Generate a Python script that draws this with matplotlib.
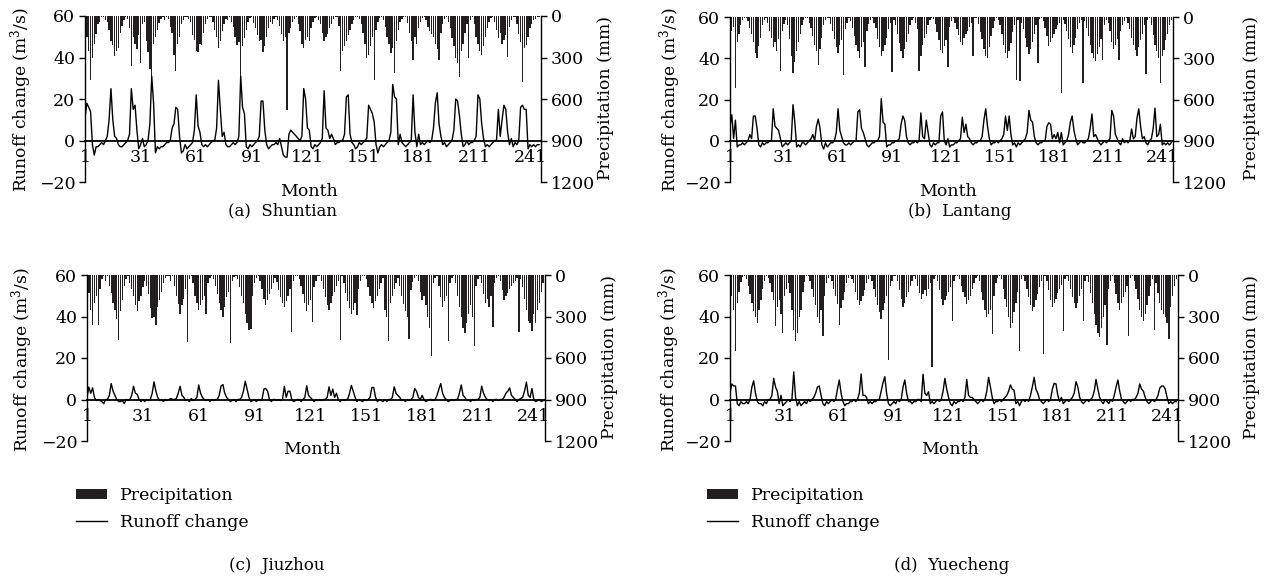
import numpy as np
import matplotlib
matplotlib.use('Agg')
import matplotlib.pyplot as plt
from matplotlib.patches import Patch
from matplotlib.lines import Line2D

plt.rcParams['font.family'] = ['DejaVu Serif']
plt.rcParams['mathtext.fontset'] = 'dejavuserif'

months = list(range(1, 247))
month_ticks = [1, 31, 61, 91, 121, 151, 181, 211, 241]
runoff_ticks = [-20, 0, 20, 40, 60]
precip_ticks = [0, 300, 600, 900, 1200]
captions = ['(a)  Shuntian', '(b)  Lantang', '(c)  Jiuzhou', '(d)  Yuecheng']
legend_labels = ['Precipitation', 'Runoff change']

runoff_a = [
    11, 18, 16, 14, -2, -7, -3, -3, -2, -1, -2, 0,
    2, 10, 25, 10, 2, 1, -2, -3, -3, -2, -1, 0,
    3, 25, 15, 17, 5, -4, -2, 1, -3, -2, 0, 8,
    31, 18, -6, -3, -4, -3, -3, -2, -1, -1, 0, 6,
    8, 16, 15, 2, -6, -5, -2, -4, -3, -2, -1, 5,
    22, 7, 4, -2, -3, -2, -3, -2, -1, 0, 0, 6,
    29, 15, 2, 4, -2, -3, -3, -2, -1, -2, -1, 2,
    31, 16, 13, -3, -4, -2, -3, -2, -1, 0, 2, 19,
    19, 5, -2, -4, -3, -2, -2, -1, -2, 1, -3, -7,
    -8, -8, 3, 5, 4, 3, 2, 1, 0, 2, 25, 20,
    6, 5, -3, -4, -2, -3, -2, -1, 1, 24, 6, 5,
    1, 3, 1, -2, -1, -1, 0, 0, 3, 21, 22, 3,
    -1, -2, -4, -3, -1, -2, -1, 0, 1, 17, 15, 13,
    9, -2, -6, -3, -2, -3, -2, -1, 0, 4, 27, 21,
    20, -2, 3, -1, -2, -3, -2, -1, 0, 22, 4, -3,
    3, -2, -1, -2, -1, 0, -1, 0, 6, 18, 23, 8,
    2, -2, -1, -3, -2, -1, 0, 5, 20, 19, 12, 3,
    -3, -2, 0, -2, -1, -1, 0, 2, 22, 20, 8, 1,
    -3, -2, -3, -2, -1, 0, 0, 15, 2, 10, 17, 15,
    4, -2, 1, -3, -1, -2, 0, 16, 17, 15, 15, -4,
    -2, -3, -2, -3, -2, -2]

precip_a = [
    60, 150, 250, 460, 300, 200, 130, 60, 40, 10, 5, 30,
    40, 100, 180, 210, 290, 250, 230, 120, 70, 30, 10, 20,
    90, 360, 150, 200, 240, 140, 340, 60, 40, 180, 260, 380,
    440, 200, 150, 100, 50, 20, 5, 30, 10, 25, 80, 120,
    280, 400, 200, 150, 60, 30, 10, 5, 20, 40, 140, 170,
    250, 260, 200, 210, 120, 60, 25, 10, 5, 40, 100, 150,
    230, 180, 110, 60, 20, 30, 10, 40, 80, 150, 210, 190,
    470, 220, 160, 100, 40, 15, 5, 50, 90, 140, 180, 170,
    260, 220, 150, 90, 40, 60, 20, 10, 30, 70, 130, 180,
    150, 680, 120, 90, 40, 20, 10, 60, 110, 200, 230, 170,
    150, 180, 90, 40, 15, 5, 30, 60, 120, 180, 150, 130,
    90, 60, 20, 10, 5, 70, 400, 250, 220, 180, 140, 100,
    60, 30, 10, 5, 20, 60, 120, 200, 300, 280, 220, 150,
    460, 100, 40, 15, 5, 30, 80, 150, 200, 270, 230, 414,
    180, 100, 40, 20, 5, 10, 50, 120, 180, 320, 150, 200,
    90, 40, 15, 5, 30, 80, 110, 130, 150, 200, 240, 317,
    120, 60, 20, 10, 40, 90, 160, 220, 300, 340, 442, 250,
    200, 120, 60, 305, 30, 10, 60, 150, 200, 250, 280, 220,
    150, 90, 40, 15, 5, 40, 100, 160, 120, 200, 170, 140,
    293, 80, 30, 10, 5, 60, 130, 190, 474, 230, 210, 150,
    90, 60, 30, 20, 10, 5]

runoff_b = [
    7, 12.6, 1, 10, -3, -2, -2, -1, -2, -1, 0, 3,
    1, 12, 12, 6, -2, -3, -1, -2, -1, -1, 0, 0,
    15.5, 7, 6, 5, 1, -3, -2, -1, -2, -1, 0, 17.5,
    9, -3, -2, -3, -1, -1, -2, -1, 0, 1, 3, 0,
    7, 10.5, 6, -2, -4, -1, -3, -2, -1, -1, 0, 4,
    15.5, 5, 2, -1, -2, -2, -1, -2, -1, 0, 0, 14,
    15, 6, 4, 1, -2, -3, -2, -1, -1, 0, 0, 2,
    20.4, 9, 8, -3, -2, -2, -1, -1, 0, 0, 1, 8,
    12, 10, 2, -1, -2, -1, -1, 0, -1, 0, 13.5, 2,
    1, 10, 4, -2, -3, -1, -2, -1, -1, 12, 14, 0,
    -2, 1, -3, -2, -2, -1, -1, 0, 1, 11.4, 4, 8,
    2, 1, -1, -2, -1, -1, 0, 0, 2, 10, 15.5, 7,
    1, -2, -1, -1, 0, -1, 0, 1, 3, 12, 5, 12,
    3, -2, -1, -3, -1, -2, -1, 0, 1, 4, 14.7, 10,
    9, 2, -1, -2, -1, -1, 0, 0, 7, 8.7, 8, 1,
    3, 1, 4, -1, 4, -2, -1, 0, 3, 9, 12, 5,
    1, -2, -1, 0, -1, -1, 0, 1, 6, 13, 2, 3,
    1, -1, -2, -1, 0, -1, 0, 1, 14.7, 12, 3, 1,
    -1, -2, 1, -1, 0, -1, 0, 5.7, 1, 2, 11, 15.5,
    7, 1, 2, -1, -2, 0, 1, 6, 15.8, 2, 3, 8,
    -2, -1, -2, -1, -2, -1]

precip_b = [
    40, 100, 70, 516, 180, 120, 60, 20, 10, 5, 30, 80,
    120, 180, 260, 300, 210, 150, 60, 20, 10, 40, 100, 150,
    220, 180, 250, 160, 390, 100, 50, 20, 60, 160, 280, 410,
    330, 250, 180, 120, 60, 20, 5, 10, 40, 80, 140, 200,
    250, 350, 230, 150, 60, 20, 5, 10, 50, 100, 160, 220,
    260, 200, 170, 420, 90, 40, 10, 30, 80, 140, 200, 250,
    300, 220, 180, 360, 100, 50, 20, 10, 40, 80, 160, 220,
    280, 250, 200, 150, 90, 40, 398, 20, 60, 120, 190, 250,
    300, 230, 180, 120, 60, 20, 10, 40, 90, 390, 280, 200,
    150, 120, 60, 20, 5, 15, 50, 110, 170, 240, 260, 210,
    170, 360, 70, 30, 10, 40, 90, 130, 180, 200, 150, 120,
    100, 70, 40, 287, 10, 5, 50, 110, 160, 230, 280, 300,
    220, 140, 80, 30, 10, 20, 60, 120, 200, 260, 300, 250,
    190, 110, 60, 458, 20, 466, 40, 90, 150, 220, 270, 230,
    180, 120, 60, 336, 15, 5, 30, 80, 140, 210, 180, 150,
    120, 90, 60, 40, 556, 20, 50, 100, 160, 220, 260, 200,
    150, 90, 40, 20, 483, 30, 80, 140, 200, 260, 300, 320,
    270, 220, 160, 311, 60, 20, 40, 100, 180, 230, 200, 160,
    311, 100, 60, 30, 10, 40, 90, 150, 200, 240, 280, 220,
    170, 120, 60, 417, 20, 10, 60, 130, 200, 250, 300, 483,
    280, 240, 170, 120, 60, 20]

runoff_c = [
    1, 6, 3, 5.6, 1, -0.5, 0, -0.5, -1, -2, 0, 0,
    2, 7.7, 4, 2, 0, -1, -1, -0.5, -2, 0, -0.5, 0,
    2, 6.4, 3, 2.5, 0, -1, 0, -1, 0, -0.5, 0, 3,
    8.5, 4, 1, -0.5, 0, -1, 0, -0.5, 0, 0.5, 0, 0,
    0.5, 3, 6.4, 2, 1, -0.5, 0, -1, 0.5, -0.5, 0, 1,
    7, 3, 1, 0, -0.5, 0, -1, 0, -0.5, 0, 0, 2,
    6.5, 7.2, 3, 1, 0, -1, -0.5, 0, -1, 0, 0, 1,
    4, 8.8, 5, 1, -1, -0.5, 0, -1, 0, -0.5, 0, 5,
    5.3, 4, 0, -1, 0, 0, -0.5, 0, -0.5, 0, 6.3, 1,
    4, 4, 0, -1, -0.5, 0, 0, -1, 0, 1, 6.6, 2,
    1, 0, -1, 0, -0.5, 0, -0.5, 0, 0, 1, 6.1, 2,
    5, 1, 3, 0, -1, 0, -0.5, 0, 0, 3, 6.8, 4,
    1, -1, 0, -0.5, -1, 0, -0.5, 0, 1, 5.8, 5.8, 1,
    -1, 0, -0.5, -1, 0, -1, 0, 0, 1, 6.1, 3, 2,
    1, -0.5, 0, -1, 0, -0.5, 0, 1, 5.3, 4, 1, 0,
    2, 0, -1, -0.5, 0, 0, -0.5, 0, 2, 5, 7.7, 3,
    1, 0, -1, -0.5, 0, -0.5, 0, 0, 3, 7, 2, 1,
    -0.5, 0, -1, 0, -0.5, 0, 0, 1, 6.4, 3, 1, 0,
    -0.5, 0, -1, 0, 0, -0.5, 0, 0, 1, 3, 4, 5.6,
    2, 1, 0, -1, 0, 0.5, 1, 4, 8.4, 2, 1, 5.3,
    0, -1, -0.5, 0, -1, -0.5]

precip_c = [
    50, 130, 250, 361, 200, 150, 361, 100, 30, 10, 40, 5,
    80, 130, 200, 250, 320, 470, 260, 180, 80, 30, 10, 60,
    100, 150, 220, 260, 190, 150, 90, 40, 80, 140, 240, 310,
    300, 361, 230, 180, 120, 60, 20, 5, 10, 40, 5, 80,
    150, 210, 280, 220, 170, 100, 482, 30, 10, 60, 150, 200,
    250, 220, 180, 150, 280, 60, 20, 5, 30, 80, 140, 200,
    250, 300, 230, 160, 120, 489, 40, 15, 5, 30, 90, 150,
    200, 280, 350, 398, 390, 150, 60, 20, 5, 40, 100, 170,
    220, 180, 140, 100, 60, 20, 50, 110, 160, 200, 230, 190,
    150, 100, 410, 40, 10, 5, 30, 80, 140, 200, 260, 220,
    180, 340, 90, 40, 10, 5, 40, 100, 160, 220, 250, 200,
    150, 120, 80, 40, 467, 10, 60, 130, 190, 240, 280, 250,
    200, 292, 100, 40, 10, 5, 30, 90, 150, 200, 240, 190,
    150, 100, 60, 20, 250, 300, 474, 200, 150, 100, 60, 20,
    80, 150, 210, 260, 300, 462, 110, 50, 20, 5, 40, 120,
    180, 150, 220, 300, 380, 584, 60, 20, 10, 80, 160, 230,
    190, 150, 474, 60, 20, 5, 60, 150, 230, 300, 380, 420,
    350, 280, 220, 300, 510, 80, 30, 10, 60, 140, 200, 170,
    230, 150, 377, 60, 20, 5, 40, 110, 180, 150, 130, 100,
    80, 60, 40, 20, 413, 30, 90, 170, 250, 330, 350, 406,
    280, 350, 250, 200, 120, 60]

runoff_d = [
    3, 7.5, 6.5, 6.5, -2, -3, -1, -2, -2, -1, -2, 0,
    6, 9, 3, -1, -2, -2, -3, -1, -2, 0, 0, 2,
    10.2, 6, 4, -2, 2, -3, -2, -1, 0, -1, 0, 13.3,
    1, -3, -1, -3, -2, -1, -2, 0, -1, 0, 1, 3,
    6, 6.5, 2, -2, -3, -1, -2, -1, 0, -1, 0, 5,
    9.4, 3, -1, -3, -2, -2, -1, -1, 0, -1, 0, 3,
    12.3, 2, 2, 1, -2, -1, -2, -1, -1, 0, 0, 4,
    8, 11, 3, -2, -3, -2, -1, -2, 0, -1, 0, 6,
    9.4, 3, -1, -1, -2, -1, -1, 0, 0, -1, 12.2, 3,
    2, 3.7, -2, -1, -2, -1, 0, -1, 0, 4, 10.2, 5,
    1, -2, -3, -1, -2, -1, -1, 0, -1, 1, 9.7, 2,
    1, 1, 0, -1, -2, -1, 0, -1, 0, 4, 10.7, 6,
    1, -2, -1, -1, 0, -1, 0, 1, 2, 4, 7, 5,
    4.5, -2, -1, -3, -1, 0, -1, 0, -1, 2, 6, 10.7,
    5, 3, 0, -1, -2, -1, 0, -1, 0, 5, 7.8, 7.5,
    2, -1, 1, -2, -1, 0, -1, 0, 1, 3, 8.6, 6,
    1, -1, -2, -1, 0, -1, 0, 1, 4, 9.7, 5, 1,
    -1, -2, 0, -1, -2, 0, -1, 2, 6, 9.4, 4, 0,
    -1, -2, -1, 0, -1, 0, 0, 1, 3, 7.5, 5, 4,
    1, -1, -2, -1, 0, -1, 0, 2, 5.5, 6.5, 6.5, 5,
    1, -2, -1, -2, -1, -1]

precip_d = [
    60, 150, 250, 552, 200, 120, 50, 15, 5, 30, 80, 140,
    200, 260, 300, 345, 250, 180, 100, 40, 10, 20, 60, 120,
    180, 370, 230, 180, 280, 418, 150, 100, 60, 130, 250, 400,
    480, 420, 300, 250, 120, 50, 10, 5, 40, 100, 160, 220,
    300, 350, 250, 438, 150, 60, 20, 5, 40, 100, 150, 210,
    358, 240, 180, 120, 60, 20, 5, 30, 60, 120, 180, 220,
    190, 150, 110, 60, 30, 10, 40, 100, 160, 220, 270, 320,
    250, 200, 150, 613, 80, 40, 10, 5, 40, 110, 170, 230,
    200, 160, 120, 80, 40, 10, 30, 80, 130, 170, 140, 110,
    150, 100, 60, 662, 30, 10, 40, 110, 170, 220, 180, 150,
    120, 90, 333, 40, 10, 5, 30, 80, 120, 160, 210, 180,
    150, 100, 60, 20, 5, 40, 120, 180, 250, 300, 280, 250,
    423, 150, 60, 20, 5, 30, 100, 170, 230, 300, 380, 350,
    270, 200, 120, 552, 30, 10, 40, 100, 160, 220, 260, 230,
    180, 140, 90, 40, 569, 10, 40, 110, 180, 230, 200, 170,
    130, 100, 70, 406, 30, 10, 40, 100, 160, 200, 240, 200,
    150, 100, 333, 40, 10, 50, 130, 200, 280, 360, 420, 450,
    380, 300, 220, 504, 100, 40, 10, 60, 140, 200, 250, 200,
    160, 120, 80, 438, 20, 5, 40, 100, 170, 250, 300, 330,
    280, 220, 150, 80, 30, 394, 60, 130, 200, 250, 280, 300,
    350, 462, 230, 150, 80, 30]

BAR_COLOR = '#231f20'
FS = 12.5
LFS = 12.3
W, H = 1264.0, 580.0

# panel geometry in pixels: left, right, top, bottom
geoms = [(85, 541, 16, 182), (730, 1173, 17, 182),
         (87, 545, 275, 441), (730, 1178, 275, 441)]
left_label_px = [(21, 100), (670, 100), (22, 360), (669, 360)]
right_label_px = [(605, 98), (1251, 98), (610, 357), (1251, 357)]
caption_pos = [(283, 211), (960, 211), (277, 566), (952, 566)]
legend_pos = [(76, 487), (707, 487)]

series = [(runoff_a, precip_a), (runoff_b, precip_b),
          (runoff_c, precip_c), (runoff_d, precip_d)]

fig = plt.figure(figsize=(12.64, 5.8), dpi=100)
fig.patch.set_facecolor('white')

for i, ((runoff, precip), (l, r, t, b)) in enumerate(zip(series, geoms)):
    ax = fig.add_axes([l / W, 1 - b / H, (r - l) / W, (b - t) / H])
    ax2 = ax.twinx()
    ax2.bar(months, precip, width=0.72, color=BAR_COLOR, linewidth=0)
    ax2.set_ylim(1200, 0)
    ax2.set_yticks(precip_ticks)
    ax.plot(months, runoff, color='black', lw=1.0)
    ax.set_zorder(ax2.get_zorder() + 1)
    ax.patch.set_visible(False)
    ax.set_xlim(1, 247)
    ax.set_ylim(-20, 60)
    ax.set_yticks(runoff_ticks)
    ax.set_xticks(month_ticks)
    for s in ['top', 'right']:
        ax.spines[s].set_visible(False)
    for s in ['top', 'left', 'bottom']:
        ax2.spines[s].set_visible(False)
    ax.spines['bottom'].set_position(('data', 0))
    ax.spines['bottom'].set_linewidth(1.3)
    ax.spines['left'].set_linewidth(1.0)
    ax2.spines['right'].set_linewidth(1.0)
    ax.tick_params(axis='x', length=0, pad=6, labelsize=FS)
    ax.tick_params(axis='y', direction='out', length=4, width=1.0, labelsize=FS, pad=3)
    ax2.tick_params(axis='y', direction='out', length=4, width=1.0, labelsize=FS, pad=3)
    ax2.tick_params(axis='x', bottom=False, labelbottom=False)
    lx, ly = left_label_px[i]
    fig.text(lx / W, 1 - ly / H, r'Runoff change (m$^3$/s)', rotation=90,
             ha='center', va='center', fontsize=LFS)
    rx, ry = right_label_px[i]
    fig.text(rx / W, 1 - ry / H, 'Precipitation (mm)', rotation=90,
             ha='center', va='center', fontsize=LFS)
    fig.text(((l + r) / 2 - 4) / W, 1 - (b + 9) / H, 'Month',
             ha='center', va='center', fontsize=FS)
    cx, cy = caption_pos[i]
    fig.text(cx / W, 1 - cy / H, captions[i], ha='center', va='center', fontsize=FS - 0.5)

for lx, ly in legend_pos:
    handles = [Patch(facecolor=BAR_COLOR, edgecolor='none'),
               Line2D([0], [0], color='black', lw=1.0)]
    fig.legend(handles, legend_labels, loc='upper left',
               bbox_to_anchor=(lx / W, 1 - ly / H), frameon=False,
               fontsize=FS, handlelength=1.8, handleheight=0.55,
               handletextpad=0.75, labelspacing=0.55, borderpad=0,
               borderaxespad=0)

fig.savefig('out.png', dpi=100, facecolor='white')
